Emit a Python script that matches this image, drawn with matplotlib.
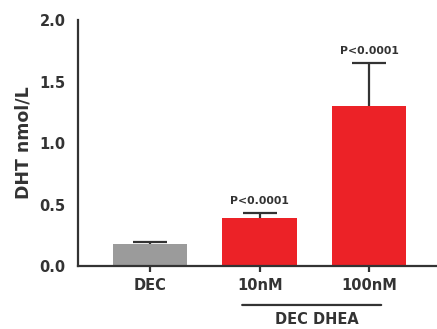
import matplotlib
matplotlib.use("Agg")
import matplotlib.pyplot as plt

categories = ["DEC", "10nM", "100nM"]
values = [0.175, 0.39, 1.30]
errors = [0.02, 0.04, 0.35]
colors = ["#9b9b9b", "#ec2227", "#ec2227"]
pvals = [None, "P<0.0001", "P<0.0001"]
yticks = [0.0, 0.5, 1.0, 1.5, 2.0]
group_label = "DEC DHEA"

plt.rcParams['font.family'] = ['DejaVu Sans']
dark = "#333333"

fig = plt.figure(figsize=(4.37, 3.29), dpi=100)
ax = fig.add_axes([0.1785, 0.1915, 0.8215, 0.7475])
x = list(range(len(categories)))
ax.bar(x, values, width=0.68, color=colors, zorder=2)
for xi, v, e in zip(x, values, errors):
    _, caps, _ = ax.errorbar([xi], [v], yerr=[[0], [e]], fmt="none", ecolor=dark,
                             elinewidth=1.6, capsize=12.5, capthick=1.6, zorder=1)
    for c in caps:
        if abs(c.get_ydata()[0] - v) < 1e-9:
            c.set_visible(False)
for xi, v, e, p in zip(x, values, errors, pvals):
    if p:
        ax.text(xi, v + e + 0.06, p, ha="center", va="bottom",
                fontsize=7.8, fontweight="bold", color=dark)

ax.set_xlim(-0.66, 2.62)
ax.set_ylim(0, 2.0)
ax.set_yticks(yticks)
ax.set_yticklabels([f"{t:.1f}" for t in yticks])
ax.set_xticks(x)
ax.set_xticklabels(categories)
for s in ["top", "right"]:
    ax.spines[s].set_visible(False)
for s in ["left", "bottom"]:
    ax.spines[s].set_linewidth(1.6)
    ax.spines[s].set_color(dark)
ax.tick_params(axis="y", length=0, pad=9, labelsize=10.5, colors=dark)
ax.tick_params(axis="x", length=4, width=1.6, color=dark, pad=5, labelsize=10.5, labelcolor=dark)
for lab in ax.get_xticklabels() + ax.get_yticklabels():
    lab.set_fontweight("bold")
ax.set_ylabel("DHT nmol/L", fontsize=12.5, fontweight="bold", color=dark, labelpad=5)

# group line and label
ax.annotate("", xy=(0.84, -0.317), xytext=(2.11, -0.317), xycoords=("data", "data"),
            arrowprops=dict(arrowstyle="-", lw=1.6, color=dark, shrinkA=0, shrinkB=0),
            annotation_clip=False)
ax.text(1.52, -0.375, group_label, ha="center", va="top", fontsize=10.5,
        fontweight="bold", color=dark, clip_on=False)

fig.savefig("out.png", dpi=100)
